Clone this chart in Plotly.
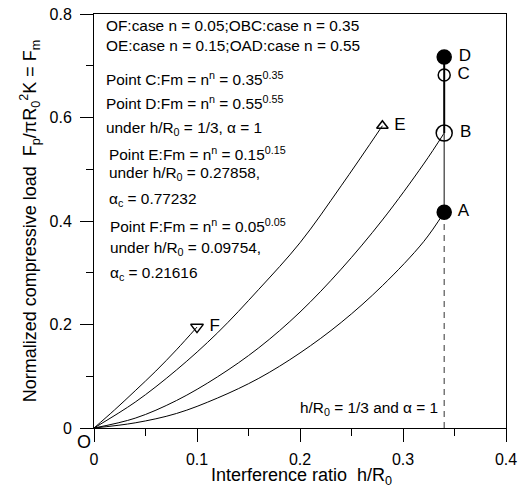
import plotly.graph_objects as go

# ---- data ----
x_OF = [0, 0.02, 0.04, 0.06, 0.08, 0.10]
y_OF = [0, 0.035, 0.072, 0.110, 0.151, 0.195]

x_OE = [0, 0.04, 0.08, 0.12, 0.16, 0.20, 0.24, 0.28]
y_OE = [0, 0.050, 0.112, 0.184, 0.268, 0.358, 0.468, 0.584]

x_OB = [0, 0.04, 0.08, 0.12, 0.16, 0.20, 0.24, 0.28, 0.32, 0.34]
y_OB = [0, 0.019, 0.053, 0.099, 0.155, 0.224, 0.307, 0.402, 0.510, 0.570]

x_OA = [0, 0.04, 0.08, 0.12, 0.16, 0.20, 0.24, 0.28, 0.32, 0.34]
y_OA = [0, 0.010, 0.028, 0.058, 0.096, 0.145, 0.204, 0.275, 0.360, 0.417]

pt_names = ["A", "B", "C", "D", "E", "F"]
pt_x = [0.34, 0.34, 0.34, 0.34, 0.28, 0.10]
pt_y = [0.417, 0.570, 0.682, 0.717, 0.584, 0.195]

x_ticks = [0, 0.1, 0.2, 0.3, 0.4]
x_tick_text = ["0", "0.1", "0.2", "0.3", "0.4"]
y_ticks = [0, 0.2, 0.4, 0.6, 0.8]
y_tick_text = ["0", "0.2", "0.4", "0.6", "0.8"]

FONT = "Arial, Liberation Sans, sans-serif"

fig = go.Figure()

for xs, ys in [(x_OF, y_OF), (x_OE, y_OE), (x_OB, y_OB), (x_OA, y_OA)]:
    fig.add_trace(go.Scatter(x=xs, y=ys, mode="lines", line=dict(color="black", width=1, shape="spline"),
                             showlegend=False, hoverinfo="skip"))

# vertical line at h/R0
iA, iB, iD = 0, 1, 3
fig.add_trace(go.Scatter(x=[pt_x[iA], pt_x[iA]], y=[0, pt_y[iA]], mode="lines",
                         line=dict(color="#555555", width=1.2, dash="6px,5px"), showlegend=False))
fig.add_trace(go.Scatter(x=[pt_x[iA], pt_x[iB]], y=[pt_y[iA], pt_y[iB]], mode="lines",
                         line=dict(color="#444444", width=1.3), showlegend=False))
fig.add_trace(go.Scatter(x=[pt_x[iB], pt_x[iD]], y=[pt_y[iB], pt_y[iD]], mode="lines",
                         line=dict(color="black", width=2), showlegend=False))

symbols = ["circle", "circle-open", "circle-open", "circle", "triangle-up-open", "triangle-down-open"]
sizes = [14, 16, 12, 14, 10, 11]
for i in range(len(pt_names)):
    fig.add_trace(go.Scatter(x=[pt_x[i]], y=[pt_y[i]], mode="markers+text",
                             marker=dict(symbol=symbols[i], size=sizes[i], color="black",
                                         line=dict(color="black", width=1.5)),
                             text=[" " + pt_names[i]], textposition="middle right",
                             textfont=dict(family=FONT, size=17, color="black"),
                             showlegend=False, cliponaxis=False))

def px2paper(px, py):
    return (px - 94) / 412.0, (428 - py) / 414.0

TS = 15.4
texts = [
    (104, 25, "OF:case n = 0.05;OBC:case n = 0.35"),
    (104, 45, "OE:case n = 0.15;OAD:case n = 0.55"),
    (104, 78, "Point C:Fm = n<sup>n</sup> = 0.35<sup>0.35</sup>"),
    (104, 103, "Point D:Fm = n<sup>n</sup> = 0.55<sup>0.55</sup>"),
    (104, 128, "under h/R<sub>0</sub> = 1/3, α = 1"),
    (107, 153, "Point E:Fm = n<sup>n</sup> = 0.15<sup>0.15</sup>"),
    (107, 173, "under h/R<sub>0</sub> = 0.27858,"),
    (107, 199, "α<sub>c</sub> = 0.77232"),
    (108, 225, "Point F:Fm = n<sup>n</sup> = 0.05<sup>0.05</sup>"),
    (108, 248, "under h/R<sub>0</sub> = 0.09754,"),
    (108, 273, "α<sub>c</sub> = 0.21616"),
]
anns = []
for px, py, t in texts:
    xp, yp = px2paper(px, py)
    anns.append(dict(x=xp, y=yp, xref="paper", yref="paper", text=t, showarrow=False,
                     xanchor="left", yanchor="middle", font=dict(family=FONT, size=TS, color="black")))

xp, yp = px2paper(440, 408)
anns.append(dict(x=xp, y=yp, xref="paper", yref="paper", text="h/R<sub>0</sub> = 1/3 and α = 1",
                 showarrow=False, xanchor="right", yanchor="middle",
                 font=dict(family=FONT, size=TS, color="black")))
xp, yp = px2paper(84, 442)
anns.append(dict(x=xp, y=yp, xref="paper", yref="paper", text="O", showarrow=False,
                 xanchor="center", yanchor="middle", font=dict(family=FONT, size=18, color="black")))
# x-axis title
xp, yp = px2paper(301, 490)
anns.append(dict(x=xp, y=yp, xref="paper", yref="paper", text="Interference ratio  h/R<sub>0</sub>",
                 showarrow=False, xanchor="center", yanchor="bottom",
                 font=dict(family=FONT, size=18, color="black")))

fig.update_layout(
    width=526, height=490,
    margin=dict(l=94, r=20, t=14, b=62),
    paper_bgcolor="white", plot_bgcolor="white",
    font=dict(family=FONT, size=16, color="black"),
    annotations=anns,
    showlegend=False,
)
fig.update_xaxes(range=[0, 0.4], tickvals=x_ticks, ticktext=x_tick_text, automargin=False,
                 showgrid=False, zeroline=False, showline=True, linecolor="black", linewidth=1,
                 mirror=True, ticks="outside", ticklen=13, tickcolor="black", ticklabelstandoff=4,
                 minor=dict(ticks="outside", ticklen=7, dtick=0.05, tickcolor="black", showgrid=False),
                 tickfont=dict(size=16))
fig.update_yaxes(range=[0, 0.8], tickvals=y_ticks, ticktext=y_tick_text, automargin=False,
                 showgrid=False, zeroline=False, showline=True, linecolor="black", linewidth=1,
                 mirror=True, ticks="outside", ticklen=13, tickcolor="black", ticklabelstandoff=5,
                 minor=dict(ticks="outside", ticklen=7, dtick=0.1, tickcolor="black", showgrid=False),
                 tickfont=dict(size=16),
                 title=dict(text="Normalized compressive load  F<sub>p</sub>/πR<sub>0</sub><sup>2</sup>K = F<sub>m</sub>",
                            font=dict(size=18), standoff=8))

fig.write_html("out.html")
